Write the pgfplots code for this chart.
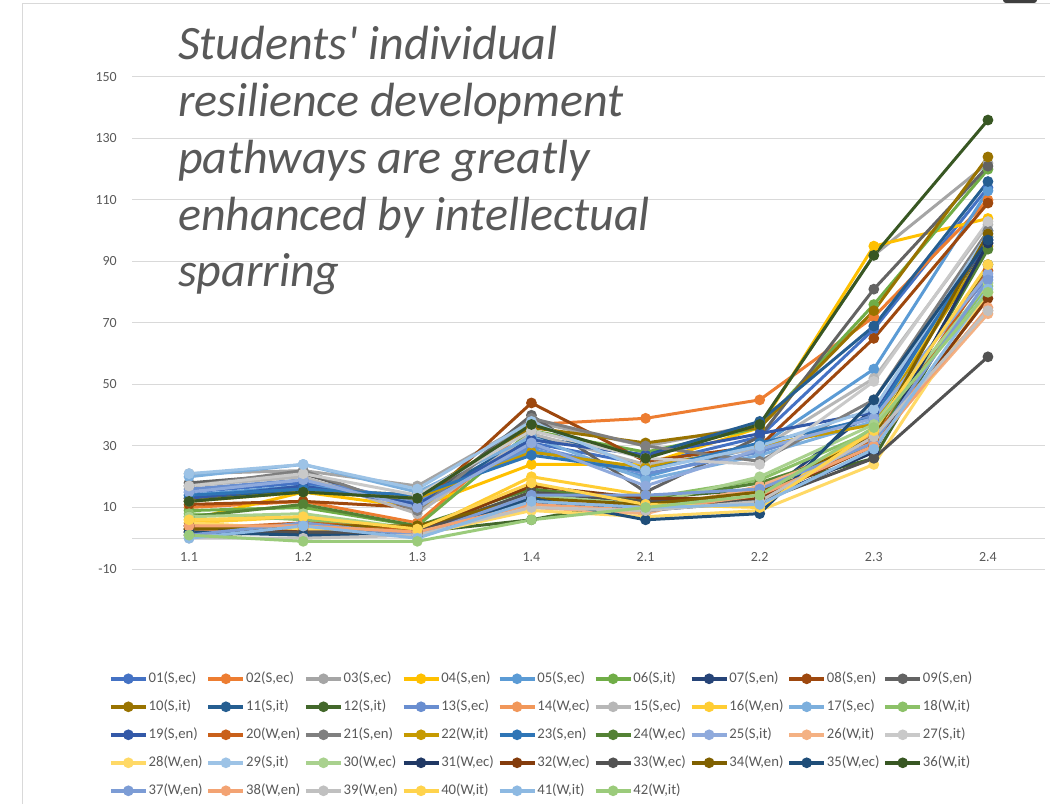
\documentclass[border=0pt]{standalone}
\usepackage{fontspec}
\setmainfont{Carlito}
\newfontfamily\titlefont{Carlito}
\usepackage{pgfplots}
\pgfplotsset{compat=1.18}
\definecolor{gridc}{HTML}{D9D9D9}
\definecolor{txt}{HTML}{595959}
\definecolor{ttl}{HTML}{595959}
\definecolor{ui}{HTML}{3F3F3F}
\definecolor{c01}{HTML}{4472C4}
\definecolor{c02}{HTML}{ED7D31}
\definecolor{c03}{HTML}{A5A5A5}
\definecolor{c04}{HTML}{FFC000}
\definecolor{c05}{HTML}{5B9BD5}
\definecolor{c06}{HTML}{70AD47}
\definecolor{c07}{HTML}{264478}
\definecolor{c08}{HTML}{9E480E}
\definecolor{c09}{HTML}{636363}
\definecolor{c10}{HTML}{997300}
\definecolor{c11}{HTML}{255E91}
\definecolor{c12}{HTML}{43682B}
\definecolor{c13}{HTML}{698ED0}
\definecolor{c14}{HTML}{F1975A}
\definecolor{c15}{HTML}{B7B7B7}
\definecolor{c16}{HTML}{FFCD33}
\definecolor{c17}{HTML}{7CAFDD}
\definecolor{c18}{HTML}{8CC168}
\definecolor{c19}{HTML}{3359A8}
\definecolor{c20}{HTML}{C9601A}
\definecolor{c21}{HTML}{7F7F7F}
\definecolor{c22}{HTML}{C69A00}
\definecolor{c23}{HTML}{2E75B6}
\definecolor{c24}{HTML}{548235}
\definecolor{c25}{HTML}{8FAADC}
\definecolor{c26}{HTML}{F4B183}
\definecolor{c27}{HTML}{C9C9C9}
\definecolor{c28}{HTML}{FFD966}
\definecolor{c29}{HTML}{9DC3E6}
\definecolor{c30}{HTML}{A9D18E}
\definecolor{c31}{HTML}{203864}
\definecolor{c32}{HTML}{843C0C}
\definecolor{c33}{HTML}{525252}
\definecolor{c34}{HTML}{7F6000}
\definecolor{c35}{HTML}{1F4E79}
\definecolor{c36}{HTML}{385723}
\definecolor{c37}{HTML}{7C9CD5}
\definecolor{c38}{HTML}{F3A373}
\definecolor{c39}{HTML}{C0C0C0}
\definecolor{c40}{HTML}{FFD34D}
\definecolor{c41}{HTML}{8DB9E2}
\definecolor{c42}{HTML}{9BCB7B}
\begin{document}
\begin{tikzpicture}
\path[use as bounding box] (0,0) rectangle (1050bp,804bp);
\draw[color=gridc, line width=1bp] (22bp,800bp) rectangle (1080bp,-30bp);
\fill[color=ui, rounded corners=3bp] (1003bp,801bp) rectangle (1037bp,820bp);
\begin{axis}[
  at={(132bp,235bp)}, anchor=south west, scale only axis,
  width=913bp, height=492bp,
  xmin=-0.5, xmax=7.5, ymin=-10, ymax=150,
  xtick={0,...,7}, xticklabels={1.1,1.2,1.3,1.4,2.1,2.2,2.3,2.4},
  ytick={-10,10,30,50,70,90,110,130,150},
  yticklabels={-10,10,30,50,70,90,110,130,150},
  extra y ticks={0}, extra y tick labels={},
  extra y tick style={grid=major, major tick length=0pt},
  ymajorgrids, grid style={color=gridc, line width=1bp},
  axis line style={draw=none}, major tick length=0pt,
  tick label style={font=\fontsize{14}{16}\selectfont, color=txt},
  yticklabel style={anchor=east, inner sep=0pt, xshift=-15bp},
  xticklabel style={anchor=center, inner sep=0pt, yshift=12bp},
  every axis plot/.append style={line width=3bp, mark=*, mark size=3.8bp, mark options={solid}},
  legend columns=9, legend cell align=left,
  legend image code/.code={\draw[mark repeat=2,mark phase=2,#1,line width=3.5bp,mark size=3.5bp] plot coordinates {(0bp,0bp) (17.5bp,0bp) (35bp,0bp)};},
  legend style={at={(0.4482,-0.207)}, anchor=north, draw=none, fill=none,
    font=\fontsize{14.7bp}{17bp}\selectfont, text=txt, inner sep=0pt, row sep=12.5bp,
    nodes={inner sep=1bp, text height=10.5bp, text depth=3bp},
    /tikz/every even column/.append style={column sep=3bp}},
]
\addplot[c01] coordinates {(0,15)(1,18)(2,12)(3,31)(4,24)(5,33)(6,68)(7,114)}; \addlegendentry{01(S,ec)}
\addplot[c02] coordinates {(0,10)(1,12)(2,5)(3,37)(4,39)(5,45)(6,72)(7,110)}; \addlegendentry{02(S,ec)}
\addplot[c03] coordinates {(0,21)(1,22)(2,17)(3,38)(4,30)(5,37)(6,92)(7,122)}; \addlegendentry{03(S,ec)}
\addplot[c04] coordinates {(0,6)(1,15)(2,10)(3,24)(4,24)(5,36)(6,95)(7,104)}; \addlegendentry{04(S,en)}
\addplot[c05] coordinates {(0,14)(1,17)(2,13)(3,29)(4,20)(5,30)(6,55)(7,113)}; \addlegendentry{05(S,ec)}
\addplot[c06] coordinates {(0,9)(1,10)(2,4)(3,35)(4,28)(5,36)(6,76)(7,120)}; \addlegendentry{06(S,it)}
\addplot[c07] coordinates {(0,3)(1,3)(2,2)(3,14)(4,12)(5,13)(6,42)(7,96)}; \addlegendentry{07(S,en)}
\addplot[c08] coordinates {(0,11)(1,12)(2,10)(3,44)(4,25)(5,30)(6,65)(7,109)}; \addlegendentry{08(S,en)}
\addplot[c09] coordinates {(0,18)(1,21)(2,10)(3,40)(4,15)(5,33)(6,81)(7,121)}; \addlegendentry{09(S,en)}
\addplot[c10] coordinates {(0,13)(1,16)(2,14)(3,36)(4,31)(5,36)(6,74)(7,124)}; \addlegendentry{10(S,it)}
\addplot[c11] coordinates {(0,12)(1,16)(2,12)(3,33)(4,27)(5,38)(6,69)(7,116)}; \addlegendentry{11(S,it)}
\addplot[c12] coordinates {(0,1)(1,2)(2,2)(3,6)(4,13)(5,16)(6,26)(7,89)}; \addlegendentry{12(S,it)}
\addplot[c13] coordinates {(0,16)(1,19)(2,12)(3,30)(4,21)(5,28)(6,40)(7,85)}; \addlegendentry{13(S,ec)}
\addplot[c14] coordinates {(0,2)(1,4)(2,3)(3,11)(4,10)(5,16)(6,34)(7,74)}; \addlegendentry{14(W,ec)}
\addplot[c15] coordinates {(0,17)(1,20)(2,8)(3,34)(4,24)(5,29)(6,52)(7,102)}; \addlegendentry{15(S,ec)}
\addplot[c16] coordinates {(0,5)(1,7)(2,2)(3,20)(4,14)(5,11)(6,36)(7,98)}; \addlegendentry{16(W,en)}
\addplot[c17] coordinates {(0,20)(1,24)(2,15)(3,33)(4,19)(5,27)(6,38)(7,100)}; \addlegendentry{17(S,ec)}
\addplot[c18] coordinates {(0,8)(1,6)(2,2)(3,15)(4,13)(5,19)(6,35)(7,82)}; \addlegendentry{18(W,it)}
\addplot[c19] coordinates {(0,13)(1,17)(2,11)(3,32)(4,27)(5,34)(6,41)(7,97)}; \addlegendentry{19(S,en)}
\addplot[c20] coordinates {(0,3)(1,5)(2,3)(3,12)(4,10)(5,12)(6,32)(7,87)}; \addlegendentry{20(W,en)}
\addplot[c21] coordinates {(0,17)(1,22)(2,9)(3,39)(4,30)(5,25)(6,45)(7,100)}; \addlegendentry{21(S,en)}
\addplot[c22] coordinates {(0,12)(1,15)(2,13)(3,28)(4,23)(5,30)(6,37)(7,95)}; \addlegendentry{22(W,it)}
\addplot[c23] coordinates {(0,14)(1,16)(2,14)(3,27)(4,22)(5,31)(6,39)(7,98)}; \addlegendentry{23(S,en)}
\addplot[c24] coordinates {(0,7)(1,11)(2,4)(3,16)(4,12)(5,18)(6,30)(7,94)}; \addlegendentry{24(W,ec)}
\addplot[c25] coordinates {(0,15)(1,19)(2,10)(3,31)(4,17)(5,29)(6,39)(7,86)}; \addlegendentry{25(S,it)}
\addplot[c26] coordinates {(0,1)(1,3)(2,1)(3,10)(4,8)(5,17)(6,31)(7,73)}; \addlegendentry{26(W,it)}
\addplot[c27] coordinates {(0,17)(1,21)(2,14)(3,35)(4,26)(5,24)(6,51)(7,103)}; \addlegendentry{27(S,it)}
\addplot[c28] coordinates {(0,5)(1,3)(2,1)(3,9)(4,7)(5,9)(6,24)(7,80)}; \addlegendentry{28(W,en)}
\addplot[c29] coordinates {(0,21)(1,24)(2,16)(3,38)(4,22)(5,30)(6,42)(7,99)}; \addlegendentry{29(S,it)}
\addplot[c30] coordinates {(0,7)(1,8)(2,3)(3,14)(4,11)(5,20)(6,37)(7,83)}; \addlegendentry{30(W,ec)}
\addplot[c31] coordinates {(0,4)(1,1)(2,1)(3,12)(4,9)(5,12)(6,28)(7,96)}; \addlegendentry{31(W,ec)}
\addplot[c32] coordinates {(0,4)(1,2)(2,2)(3,17)(4,13)(5,13)(6,30)(7,78)}; \addlegendentry{32(W,ec)}
\addplot[c33] coordinates {(0,2)(1,2)(2,2)(3,15)(4,12)(5,12)(6,26)(7,59)}; \addlegendentry{33(W,ec)}
\addplot[c34] coordinates {(0,3)(1,4)(2,4)(3,13)(4,11)(5,15)(6,33)(7,99)}; \addlegendentry{34(W,en)}
\addplot[c35] coordinates {(0,2)(1,1)(2,1)(3,13)(4,6)(5,8)(6,45)(7,97)}; \addlegendentry{35(W,ec)}
\addplot[c36] coordinates {(0,12)(1,15)(2,13)(3,37)(4,26)(5,37)(6,92)(7,136)}; \addlegendentry{36(W,it)}
\addplot[c37] coordinates {(0,1)(1,5)(2,1)(3,14)(4,14)(5,16)(6,31)(7,84)}; \addlegendentry{37(W,en)}
\addplot[c38] coordinates {(0,4)(1,4)(2,2)(3,11)(4,9)(5,14)(6,30)(7,75)}; \addlegendentry{38(W,en)}
\addplot[c39] coordinates {(0,0)(1,0)(2,1)(3,10)(4,9)(5,12)(6,33)(7,74)}; \addlegendentry{39(W,en)}
\addplot[c40] coordinates {(0,6)(1,7)(2,3)(3,18)(4,11)(5,10)(6,35)(7,89)}; \addlegendentry{40(W,it)}
\addplot[c41] coordinates {(0,0)(1,4)(2,0)(3,12)(4,10)(5,11)(6,29)(7,81)}; \addlegendentry{41(W,it)}
\addplot[c42] coordinates {(0,1)(1,-1)(2,-1)(3,6)(4,10)(5,14)(6,36)(7,80)}; \addlegendentry{42(W,it)}
\end{axis}
\begin{scope}[every node/.style={anchor=base west, inner sep=0pt, text=ttl, font=\titlefont\fontsize{48bp}{56bp}\selectfont\itshape}]
\node at (178bp,744bp) {Students' individual};
\node at (178bp,687.25bp) {resilience development};
\node at (178bp,630.5bp) {pathways are greatly};
\node at (178bp,573.75bp) {enhanced by intellectual};
\node at (178bp,517bp) {sparring};
\end{scope}
\end{tikzpicture}
\end{document}
